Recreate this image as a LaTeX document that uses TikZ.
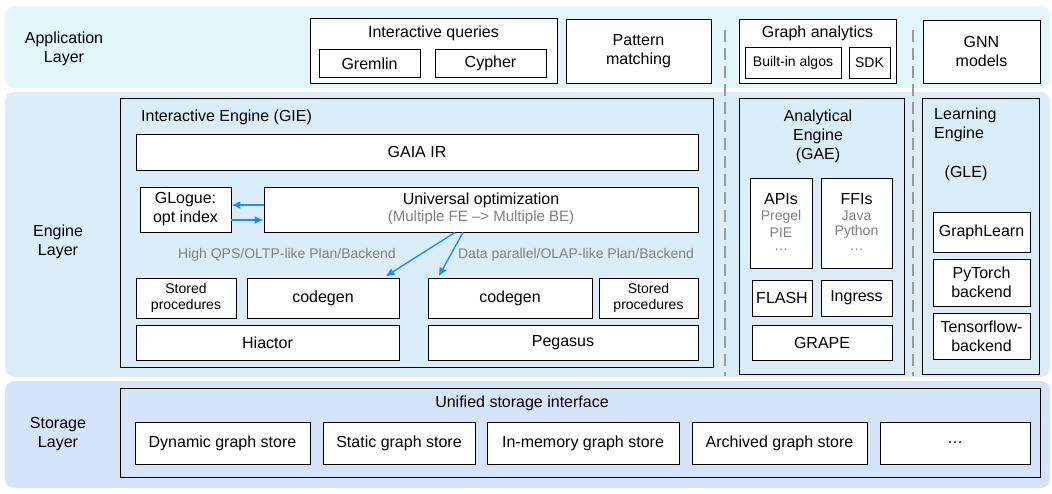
\documentclass[tikz,border=0pt]{standalone}
\usepackage{fontspec}
\setmainfont{Liberation Sans}
\usetikzlibrary{arrows.meta}
\definecolor{appbg}{HTML}{E2F6FB}
\definecolor{engbg}{HTML}{DCEDFA}
\definecolor{storbg}{HTML}{D6E4FA}
\definecolor{arrblue}{HTML}{1A90FF}
\definecolor{txtgray}{HTML}{808080}
\definecolor{dashgray}{HTML}{9A9A9A}
\tikzset{
  layerbg/.style={rounded corners=9pt, draw=none},
  box/.style={draw=black, fill=white, line width=0.9pt, inner sep=1pt, align=center, font=\fontsize{16}{19}\selectfont},
  frame/.style={draw=black, line width=0.9pt, inner sep=0pt},
  txt/.style={inner sep=0pt, align=center, font=\fontsize{16}{19}\selectfont},
  graytxt/.style={inner sep=0pt, align=center, text=txtgray, font=\fontsize{14}{16.5}\selectfont},
  smallbox/.style={box, font=\fontsize{14}{16.5}\selectfont},
  arr/.style={draw=arrblue, line width=1.4pt, -{Latex[length=9pt,width=8pt]}},
  sep/.style={draw=dashgray, line width=1.3pt, dash pattern=on 12pt off 6pt},
}
\begin{document}
\begin{tikzpicture}[x=1pt,y=-1pt]
\useasboundingbox (0,0) rectangle (1052,493);
% layer backgrounds
\fill[layerbg, appbg] (5,6) rectangle (1050,88);
\fill[layerbg, engbg] (5,92) rectangle (1050,377);
\fill[layerbg, storbg] (5,381) rectangle (1050,488);
% dashed separators
\coordinate (d1a) at (725,30); \coordinate (d1b) at (725,376);
\coordinate (d2a) at (913,30); \coordinate (d2b) at (913,376);
\draw[sep] (d1a) -- (d1b);
\draw[sep] (d2a) -- (d2b);

% ---------- Application layer ----------
\node[txt] (applbl) at (64,49) {Application\\Layer};
\node[box, minimum width=247pt, minimum height=65pt] (iq) at (433.5,50.5) {};
\node[txt] (iqt) at (433.5,33) {Interactive queries};
\node[box, minimum width=101pt, minimum height=28pt] (gremlin) at (369.5,63.5) {Gremlin};
\node[box, minimum width=111pt, minimum height=28pt] (cypher) at (490.5,63.5) {Cypher};
\node[box, minimum width=145pt, minimum height=64pt] (pattern) at (638.5,51) {Pattern\\matching};
\node[box, minimum width=157pt, minimum height=64pt] (ga) at (817.5,51) {};
\node[txt] (gat) at (817.5,33) {Graph analytics};
\node[smallbox, minimum width=96pt, minimum height=31pt] (builtin) at (793,62.5) {Built-in algos};
\node[smallbox, minimum width=41pt, minimum height=31pt] (sdk) at (869.5,62.5) {SDK};
\node[box, minimum width=117pt, minimum height=63pt] (gnn) at (981.5,51.5) {GNN\\models};

% ---------- Engine layer ----------
\node[txt] (englbl) at (58,242) {Engine\\Layer};
\node[frame, minimum width=593pt, minimum height=269pt] (gie) at (416.5,232.5) {};
\node[txt, anchor=west] (giet) at (141,117) {Interactive Engine (GIE)};
\node[box, minimum width=562pt, minimum height=36pt] (gaia) at (417,152) {GAIA IR};
\node[box, minimum width=91pt, minimum height=45pt] (glogue) at (185.5,209.5) {GLogue:\\opt index};
\node[box, minimum width=434pt, minimum height=45pt] (uo) at (481,209.5) {};
\node[txt] (uot) at (481,200) {Universal optimization};
\node[graytxt, font=\fontsize{15}{17}\selectfont] (uos) at (481,218) {(Multiple FE –> Multiple BE)};
\node[smallbox, minimum width=100pt, minimum height=40pt] (spL) at (186,298) {Stored\\procedures};
\node[box, minimum width=152pt, minimum height=40pt] (cgL) at (323,298) {codegen};
\node[box, minimum width=164pt, minimum height=40pt] (cgR) at (510,298) {codegen};
\node[smallbox, minimum width=99pt, minimum height=40pt] (spR) at (648.5,298) {Stored\\procedures};
\node[box, minimum width=263pt, minimum height=35pt] (hiactor) at (267.5,342.5) {Hiactor};
\node[box, minimum width=270pt, minimum height=35pt] (pegasus) at (563,342.5) {Pegasus};
\node[graytxt] (oltp) at (287,255) {High QPS/OLTP-like Plan/Backend};
\node[graytxt] (olap) at (576,255) {Data parallel/OLAP-like Plan/Backend};
\draw[arr] ([yshift=4.5pt]uo.west) -- ([yshift=4.5pt]glogue.east);
\draw[arr] ([yshift=-10.5pt]glogue.east) -- ([yshift=-10.5pt]uo.west);
\draw[arr] ([xshift=-26pt]uo.south) -- ([xshift=-14pt,yshift=1pt]cgL.north east);
\draw[arr] ([xshift=-18pt]uo.south) -- ([xshift=11pt,yshift=1pt]cgR.north west);

% GAE
\node[frame, minimum width=165pt, minimum height=276pt] (gae) at (821.5,236) {};
\node[txt] (gaet) at (818,136) {Analytical\\Engine\\(GAE)};
\node[box, minimum width=62pt, minimum height=90pt] (apis) at (781,223) {};
\node[txt] (apist) at (781,199) {APIs};
\node[graytxt] (apisa) at (781,217) {Pregel};
\node[graytxt] (apisb) at (781,233) {PIE};
\node[graytxt] (apisc) at (781,250) {…};
\node[box, minimum width=71pt, minimum height=90pt] (ffis) at (856.5,223) {};
\node[txt] (ffist) at (856.5,199) {FFIs};
\node[graytxt] (ffisa) at (856.5,216) {Java};
\node[graytxt] (ffisb) at (856.5,232) {Python};
\node[graytxt] (ffisc) at (856.5,250) {…};
\node[box, minimum width=60pt, minimum height=36pt] (flash) at (782,298) {FLASH};
\node[box, minimum width=71pt, minimum height=36pt] (ingress) at (856.5,298) {Ingress};
\node[box, minimum width=140pt, minimum height=35pt] (grape) at (822,342.5) {GRAPE};

% GLE
\node[frame, minimum width=117pt, minimum height=276pt] (gle) at (980.5,236) {};
\node[txt, align=left, anchor=north west] (glet) at (934,108) {Learning\\Engine};
\node[txt] (gleg) at (966,173) {(GLE)};
\node[box, minimum width=97pt, minimum height=40pt] (graphlearn) at (981.5,232) {GraphLearn};
\node[box, minimum width=97pt, minimum height=47pt] (pytorch) at (981.5,282.5) {PyTorch\\backend};
\node[box, minimum width=97pt, minimum height=46pt] (tf) at (981.5,336) {Tensorflow-\\backend};

% ---------- Storage layer ----------
\node[txt] (storlbl) at (58,434) {Storage\\Layer};
\node[frame, minimum width=920pt, minimum height=89pt] (usi) at (580,432.5) {};
\node[txt] (usit) at (522,403) {Unified storage interface};
\node[box, minimum width=175pt, minimum height=42pt] (dyn) at (222.5,443) {Dynamic graph store};
\node[box, minimum width=152pt, minimum height=42pt] (stat) at (399,443) {Static graph store};
\node[box, minimum width=192pt, minimum height=42pt] (inmem) at (583,443) {In-memory graph store};
\node[box, minimum width=175pt, minimum height=42pt] (arch) at (779.5,443) {Archived graph store};
\node[box, minimum width=150pt, minimum height=42pt] (dots) at (955,443) {…};
\end{tikzpicture}
\end{document}
